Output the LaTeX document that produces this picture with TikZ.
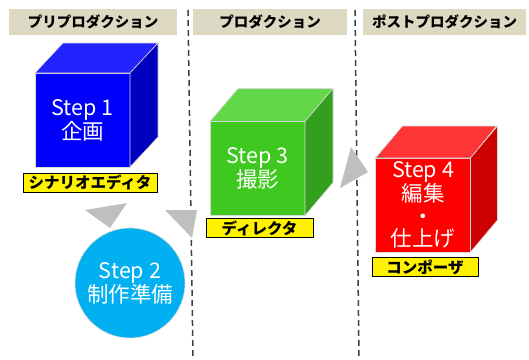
\documentclass[tikz,border=0pt]{standalone}
\usepackage{fontspec}
\setmainfont{Noto Sans CJK JP}
\usetikzlibrary{positioning}

\definecolor{headtan}{RGB}{221,217,195}
\definecolor{arrowgray}{RGB}{191,191,191}
\definecolor{skycyan}{RGB}{0,176,240}
\definecolor{bluefront}{RGB}{0,0,250}
\definecolor{bluetop}{RGB}{35,35,255}
\definecolor{blueside}{RGB}{0,0,190}
\definecolor{greenfront}{RGB}{62,200,32}
\definecolor{greentop}{RGB}{98,216,72}
\definecolor{greenside}{RGB}{50,160,30}
\definecolor{redfront}{RGB}{255,0,0}
\definecolor{redtop}{RGB}{255,52,52}
\definecolor{redside}{RGB}{204,0,0}

\begin{document}
\begin{tikzpicture}[x=1pt,y=-1pt,
  head/.style={fill=headtan, minimum height=26, inner sep=0, font=\fontsize{14.5}{16}\selectfont\bfseries},
  face/.style={draw=white!85!black, line width=0.6pt, outer sep=0, minimum width=95, minimum height=94,
    inner sep=0, text=white, align=center, font=\fontsize{21.5}{22.5}\selectfont},
  edge/.style={draw=white!85!black, line width=0.6pt},
  tag/.style={draw=black, line width=0.8pt, fill=yellow, minimum height=19, inner sep=0,
    font=\fontsize{15.5}{17}\selectfont\bfseries},
  phase/.style={draw=black!75, line width=1.5pt, dash pattern=on 6pt off 4pt},
  hint/.style={fill=arrowgray}]
\useasboundingbox (0,0) rectangle (529,359);

% phase headers
\node[head, minimum width=168] (h1) at (93,22) {プリプロダクション};
\node[head, minimum width=154] (h2) at (270,22) {プロダクション};
\node[head, minimum width=163] (h3) at (444.5,22) {ポストプロダクション};

% phase borders
\draw[phase] (188,10) -- (193,359);
\draw[phase] (355,10) -- (359,359);

% step 1
\node[face, fill=bluefront] (s1) at (82.5,120) {Step 1\\企画};
\filldraw[edge, fill=bluetop] (s1.north west) -- ++(28,-30) -- ++(95,0) -- (s1.north east) -- cycle;
\filldraw[edge, fill=blueside] (s1.north east) -- ++(28,-30) -- ++(0,94) -- (s1.south east) -- cycle;
\node[tag, minimum width=134] (t1) at (90,182.5) {シナリオエディタ};

% step 2
\node[circle, draw=white!85!black, line width=0.6pt, fill=skycyan, minimum size=110, inner sep=0,
  text=white, align=center, font=\fontsize{21.5}{22.5}\selectfont] (s2) at (130,283) {Step 2\\制作準備};

% step 3
\node[face, fill=greenfront] (s3) at (257.5,168.5) {Step 3\\撮影};
\filldraw[edge, fill=greentop] (s3.north west) -- ++(28,-33) -- ++(95,0) -- (s3.north east) -- cycle;
\filldraw[edge, fill=greenside] (s3.north east) -- ++(28,-33) -- ++(0,94) -- (s3.south east) -- cycle;
\node[tag, minimum width=107] (t3) at (259.5,228) {ディレクタ};

% step 4
\node[face, fill=redfront] (s4) at (423,205) {Step 4\\編集\\・\\仕上げ};
\filldraw[edge, fill=redtop] (s4.north west) -- ++(27,-32) -- ++(94,0) -- (s4.north east) -- cycle;
\filldraw[edge, fill=redside] (s4.north east) -- ++(27,-32) -- ++(0,94) -- (s4.south east) -- cycle;
\node[tag, minimum width=106] (t4) at (425,267) {コンポーザ};

% flow hints
\fill[hint] (85,210) -- (127,203) -- (110,228) -- cycle;
\fill[hint] (165,210) -- (197,210) -- (192,238) -- cycle;
\fill[hint] (340,188) -- (351,147) -- (368,172) -- cycle;
\end{tikzpicture}
\end{document}
